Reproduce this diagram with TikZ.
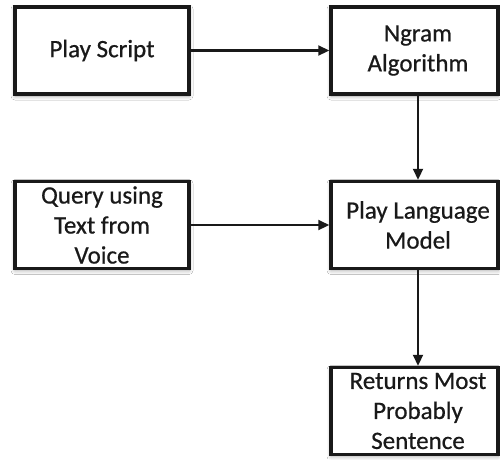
\documentclass[tikz,border=0pt]{standalone}
\usepackage{fontspec}
\setmainfont{Carlito}[FakeBold=0.6]
\usetikzlibrary{arrows.meta,shadows.blur}
\begin{document}
\begin{tikzpicture}[x=1pt,y=-1pt,
  box/.style={draw=black!90, line width=3.5pt, fill=white, rectangle, inner sep=0pt,
    minimum width=#1, minimum height=87pt, align=center,
    font=\fontsize{25}{30}\selectfont, text=black!90,
    blur shadow={shadow blur steps=6, shadow xshift=0pt, shadow yshift=-2pt, shadow blur radius=4pt, shadow opacity=35}},
  box/.default=174pt,
  arr/.style={draw=black!90, line width=2.2pt, -{Triangle[length=11pt,width=10pt]}}]
\useasboundingbox (0,0) rectangle (500,459);
\fill[white] (0,0) rectangle (500,459);
\node[box=174pt] (ps) at (102,50.5) {Play Script};
\node[box=167pt] (ng) at (414.5,50.5) {\hspace{7pt}Ngram\\\hspace{7pt}Algorithm};
\node[box=174pt] (q) at (102,225) {Query using\\Text from\\Voice};
\node[box=167pt] (plm) at (414.5,225) {\hspace{7pt}Play Language\\\hspace{7pt}Model};
\node[box=167pt] (ret) at (414.5,411) {\hspace{7pt}Returns Most\\\hspace{7pt}Probably\\\hspace{7pt}Sentence};
\draw[arr] (ps.east) -- (ng.west);
\draw[arr] (q.east) -- (plm.west);
\draw[arr] ([xshift=3.5pt]ng.south) -- ([xshift=3.5pt]plm.north);
\draw[arr] ([xshift=3.5pt]plm.south) -- ([xshift=3.5pt]ret.north);
\end{tikzpicture}
\end{document}
